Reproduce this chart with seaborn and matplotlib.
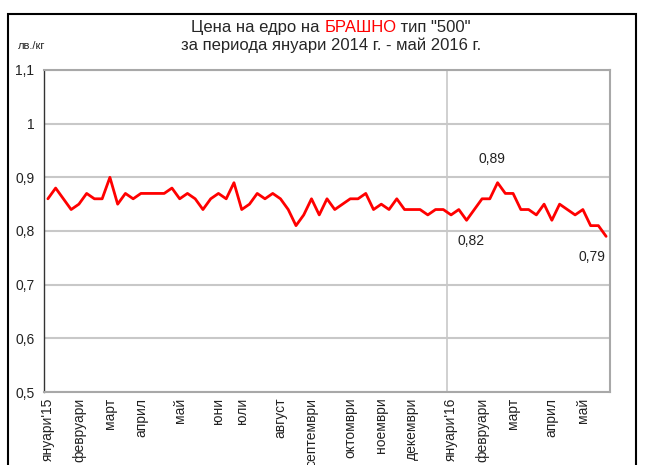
import matplotlib
matplotlib.use('Agg')
import matplotlib.pyplot as plt
from matplotlib.patches import Rectangle
import numpy as np
import pandas as pd
import seaborn as sns

# weekly wholesale price of flour type "500", Jan 2015 - May 2016 (lv/kg)
prices = [0.86, 0.88, 0.86, 0.84, 0.85, 0.87, 0.86, 0.86, 0.90, 0.85,
          0.87, 0.86, 0.87, 0.87, 0.87, 0.87, 0.88, 0.86, 0.87, 0.86,
          0.84, 0.86, 0.87, 0.86, 0.89, 0.84, 0.85, 0.87, 0.86, 0.87,
          0.86, 0.84, 0.81, 0.83, 0.86, 0.83, 0.86, 0.84, 0.85, 0.86,
          0.86, 0.87, 0.84, 0.85, 0.84, 0.86, 0.84, 0.84, 0.84, 0.83,
          0.84, 0.84, 0.83, 0.84, 0.82, 0.84, 0.86, 0.86, 0.89, 0.87,
          0.87, 0.84, 0.84, 0.83, 0.85, 0.82, 0.85, 0.84, 0.83, 0.84,
          0.81, 0.81, 0.79]

month_pos = [0, 4, 8, 12, 17, 22, 25, 30, 34, 39, 43, 47, 52, 56, 60, 65, 69]
month_labels = ["януари'15", "февруари", "март", "април", "май", "юни", "юли",
                "август", "септември", "октомври", "ноември", "декември",
                "януари'16", "февруари", "март", "април", "май"]

y_ticks = [0.5, 0.6, 0.7, 0.8, 0.9, 1.0, 1.1]
y_labels = ["0,5", "0,6", "0,7", "0,8", "0,9", "1", "1,1"]

# labelled points: (index, text)
notes = [(58, "0,89"), (54, "0,82"), (72, "0,79")]
year_split = 51.5

df = pd.DataFrame({"week": np.arange(len(prices)), "price": prices})

sns.set_style("white")
plt.rcParams['font.family'] = ['Liberation Sans', 'DejaVu Sans']

W, H = 645, 465
fig = plt.figure(figsize=(W / 100, H / 100), dpi=100)
ax = fig.add_axes([44 / W, 1 - 392 / H, (610 - 44) / W, (392 - 70) / H])

sns.lineplot(data=df, x="week", y="price", color="#ff0000", linewidth=2, ax=ax)

ax.set_xlim(-0.5, len(prices) - 0.5)
ax.set_ylim(0.5, 1.1)
ax.set_yticks(y_ticks)
ax.set_yticklabels(y_labels, fontsize=10, color="#222222")
ax.set_xticks(month_pos)
ax.set_xticklabels(month_labels, rotation=90, fontsize=10, color="#222222",
                   va="top", ha="center")
ax.tick_params(axis="y", length=4, width=1, color="#444444", pad=3)
ax.tick_params(axis="x", length=0, pad=4)
ax.set_xlabel("")
ax.set_ylabel("")
ax.grid(axis="y", color="#c8c8c8", linewidth=1.5)
ax.set_axisbelow(True)
ax.axvline(year_split, color="#c8c8c8", linewidth=1.2, zorder=0)

for side in ["top", "right", "bottom"]:
    ax.spines[side].set_color("#a8a8a8")
    ax.spines[side].set_linewidth(1.5)
ax.spines["left"].set_color("#333333")
ax.spines["left"].set_linewidth(1)

# value labels
ax.annotate(notes[0][1], (notes[0][0], prices[notes[0][0]]), xytext=(-4, 14),
            textcoords="offset points", ha="center", fontsize=10, color="#222222")
ax.annotate(notes[1][1], (notes[1][0], prices[notes[1][0]]), xytext=(3, -18),
            textcoords="offset points", ha="center", fontsize=10, color="#222222")
ax.annotate(notes[2][1], (notes[2][0], prices[notes[2][0]]), xytext=(-10, -18),
            textcoords="offset points", ha="center", fontsize=10, color="#222222")

# two-line title, with the product name in red
t1 = fig.text(0.3, 1 - 27.5 / H, "Цена на едро на ", fontsize=12, va="center", ha="left")
t2 = ax.annotate("БРАШНО", xy=(1, 0), xycoords=t1, va="bottom", ha="left",
                 fontsize=12, color="#ff0000", annotation_clip=False)
t3 = ax.annotate(' тип "500"', xy=(1, 0), xycoords=t2, va="bottom", ha="left",
                 fontsize=12, annotation_clip=False)
fig.canvas.draw()
r = fig.canvas.get_renderer()
left = t1.get_window_extent(r).x0
right = t3.get_window_extent(r).x1
t1.set_x((331 - (right - left) / 2) / W)
fig.text(331 / W, 1 - 45.5 / H, "за периода януари 2014 г. - май 2016 г.",
         fontsize=12, va="center", ha="center")
fig.text(18 / W, 1 - 46 / H, "лв./кг", fontsize=8, va="center", ha="left",
         color="#222222")

# chart frame
fig.add_artist(Rectangle((8 / W, -0.1), (636 - 8) / W, 1.1 - 14 / H,
                         transform=fig.transFigure, fill=False,
                         edgecolor="black", linewidth=1.5))

fig.savefig("out.png", dpi=100)
